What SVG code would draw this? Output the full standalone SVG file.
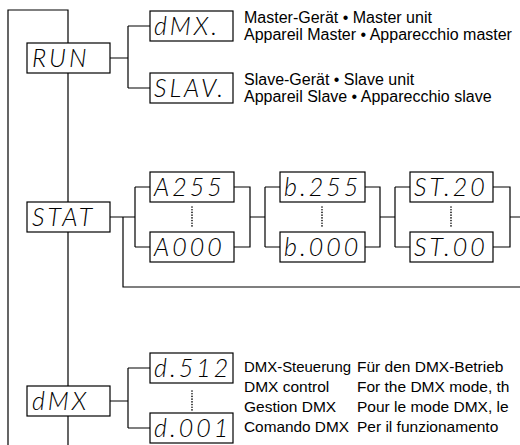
<svg xmlns="http://www.w3.org/2000/svg" width="520" height="445" viewBox="0 0 520 445">
<style>
.ln{fill:none;stroke:#000;stroke-width:1.2}
.bx{fill:#fff;stroke:#000;stroke-width:1.2}
.seg{font-family:Lato,Roboto,"DejaVu Sans",sans-serif;font-weight:300;font-style:italic;font-size:25px;letter-spacing:3px;fill:#000}
.dot{fill:none;stroke:#000;stroke-width:1.6;stroke-dasharray:0.1 2.6;stroke-linecap:round}
.t{font-family:"Liberation Sans",Arial,sans-serif;font-size:16px;fill:#000}
.b{font-size:15.5px}
</style>
<g id="connectors">
<path class="ln" d="M8,445 V10 H68 V445"/>
<path class="ln" d="M110,58 H128 M128,26 V88 M128,26 H150 M128,88 H150"/>
<path class="ln" d="M110,217 H135 M123,217 V287 H520 M135,187 V247 M135,187 H150 M135,247 H150"/>
<path class="ln" d="M234,187 H250 V247 H234 M250,217 H265 M265,187 V247 M265,187 H280 M265,247 H280"/>
<path class="ln" d="M365,187 H380 V247 H365 M380,217 H395 M395,187 V247 M395,187 H410 M395,247 H410"/>
<path class="ln" d="M493,187 H510 V247 H493 M510,217 H520"/>
<path class="ln" d="M110,401 H128 M128,368 V428 M128,368 H150 M128,428 H150"/>
<path class="dot" d="M192,207 V228 M322,207 V228 M451,207 V228 M192,391 V410"/>
</g>
<g id="run"><rect class="bx" x="27" y="43" width="83" height="30"/><text class="seg" x="32" y="67">RUN</text></g>
<g id="stat"><rect class="bx" x="27" y="202" width="83" height="30"/><text class="seg" x="32" y="226">STAT</text></g>
<g id="dmx"><rect class="bx" x="27" y="386" width="83" height="30"/><text class="seg" x="32" y="410">dMX</text></g>
<g id="dmx-master"><rect class="bx" x="150" y="11" width="83" height="30"/><text class="seg" x="154" y="35">dMX.</text></g>
<g id="slave"><rect class="bx" x="150" y="73" width="83" height="30"/><text class="seg" x="154" y="97">SLAV.</text></g>
<g id="a255"><rect class="bx" x="150" y="172" width="84" height="30"/><text class="seg" x="154" y="196">A255</text></g>
<g id="a000"><rect class="bx" x="150" y="232" width="84" height="30"/><text class="seg" x="154" y="256">A000</text></g>
<g id="b255"><rect class="bx" x="280" y="172" width="85" height="30"/><text class="seg" x="284" y="196">b.255</text></g>
<g id="b000"><rect class="bx" x="280" y="232" width="85" height="30"/><text class="seg" x="284" y="256">b.000</text></g>
<g id="st20"><rect class="bx" x="410" y="172" width="83" height="30"/><text class="seg" x="414" y="196">ST.20</text></g>
<g id="st00"><rect class="bx" x="410" y="232" width="83" height="30"/><text class="seg" x="414" y="256">ST.00</text></g>
<g id="d512"><rect class="bx" x="150" y="353" width="83" height="30"/><text class="seg" x="154" y="377">d.512</text></g>
<g id="d001"><rect class="bx" x="150" y="413" width="83" height="30"/><text class="seg" x="154" y="437">d.001</text></g>
<g id="labels">
<text class="t" x="244" y="23">Master-Gerät • Master unit</text>
<text class="t" x="244" y="40">Appareil Master • Apparecchio master</text>
<text class="t" x="244" y="85">Slave-Gerät • Slave unit</text>
<text class="t" x="244" y="102">Appareil Slave • Apparecchio slave</text>
<text class="t b" x="244" y="372" textLength="107" lengthAdjust="spacingAndGlyphs">DMX-Steuerung</text>
<text class="t b" x="244" y="392">DMX control</text>
<text class="t b" x="244" y="412">Gestion DMX</text>
<text class="t b" x="244" y="432" textLength="105" lengthAdjust="spacingAndGlyphs">Comando DMX</text>
<text class="t b" x="357" y="372">Für den DMX-Betrieb</text>
<text class="t b" x="357" y="392">For the DMX mode, th</text>
<text class="t b" x="357" y="412">Pour le mode DMX, le</text>
<text class="t b" x="357" y="432">Per il funzionamento</text>
</g>
</svg>
